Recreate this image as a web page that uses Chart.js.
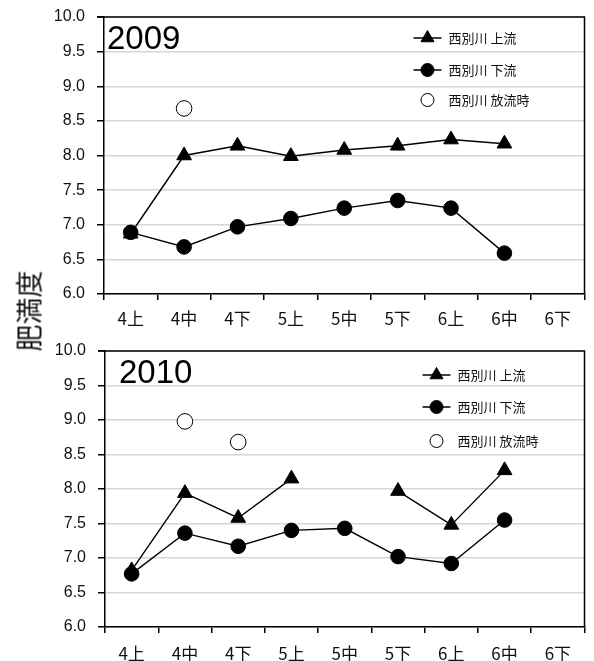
<!DOCTYPE html>
<html>
<head>
<meta charset="utf-8">
<script src="https://cdn.jsdelivr.net/npm/chart.js@4/dist/chart.umd.min.js"></script>
<style>
  body { margin: 0; background: #fff; }
  #wrap { position: relative; width: 594px; height: 661px; }
  canvas { position: absolute; left: 0; }
  #yTitle {
    position: absolute; left: 28px; top: 311px;
    transform: translate(-50%, -50%) rotate(-90deg);
    font-family: "Noto Sans CJK JP", sans-serif; font-size: 27px; color: #111;
    white-space: nowrap; line-height: 1;
  }
</style>
</head>
<body>
<div id="wrap">
  <canvas id="c2009" width="594" height="330" style="top:0"></canvas>
  <canvas id="c2010" width="594" height="331" style="top:330px"></canvas>
  <div id="yTitle">肥満度</div>
</div>
<script>
// 旬ごとのラベル
var categories = ['4上', '4中', '4下', '5上', '5中', '5下', '6上', '6中', '6下'];
var seriesNames = ['西別川 上流', '西別川 下流', '西別川 放流時'];

// 2009
var up2009 = [6.87, 8.0, 8.14, 7.99, 8.08, 8.14, 8.23, 8.17, null];
var down2009 = [6.89, 6.68, 6.97, 7.09, 7.24, 7.35, 7.24, 6.59, null];
var release2009 = [null, 8.68, null, null, null, null, null, null, null];

// 2010
var up2010 = [6.82, 7.94, 7.58, 8.15, null, 7.97, 7.48, 8.27, null];
var down2010 = [6.77, 7.36, 7.17, 7.40, 7.43, 7.02, 6.92, 7.55, null];
var release2010 = [null, 8.98, 8.68, null, null, null, null, null, null];

var yMin = 6.0, yMax = 10.0, yStep = 0.5;

// 凡例と年の表示（プロット内）
var boxLegend = {
  id: 'boxLegend',
  beforeDatasetsDraw: function (chart) {
    var a = chart.chartArea, ctx = chart.ctx;
    ctx.save();
    ctx.strokeStyle = '#000';
    ctx.lineWidth = 1.5;
    ctx.beginPath();
    ctx.moveTo(a.left - 7, a.top);
    ctx.lineTo(a.right, a.top);
    ctx.lineTo(a.right, a.bottom);
    ctx.stroke();
    ctx.restore();
  },
  afterDraw: function (chart) {
    var o = chart.options.plugins.boxLegend;
    var a = chart.chartArea, ctx = chart.ctx;
    ctx.save();
    ctx.fillStyle = '#000';
    ctx.font = o.yearSize + 'px "Liberation Sans", Arial, sans-serif';
    ctx.textBaseline = 'middle';
    ctx.fillText(o.year, a.left + o.yearX, a.top + o.yearY);

    chart.data.datasets.forEach(function (ds, i) {
      var y = a.top + o.rows[i];
      var x1 = a.right - o.lineX;
      var cx = x1 + 14;
      if (ds.showLine !== false) {
        ctx.strokeStyle = '#000';
        ctx.lineWidth = 1.5;
        ctx.beginPath();
        ctx.moveTo(x1, y);
        ctx.lineTo(x1 + 28, y);
        ctx.stroke();
      }
      ctx.fillStyle = ds.pointBackgroundColor;
      ctx.strokeStyle = ds.pointBorderColor;
      ctx.lineWidth = ds.pointBorderWidth;
      Chart.helpers.drawPoint(ctx, {
        pointStyle: ds.pointStyle,
        radius: ds.legendRadius,
        rotation: 0,
        borderWidth: ds.pointBorderWidth
      }, cx, y);
      ctx.fillStyle = '#111';
      ctx.font = '13px "Noto Sans CJK JP", sans-serif';
      ctx.textBaseline = 'middle';
      ctx.fillText(ds.label, a.right - o.textX, y);
    });
    ctx.restore();
  }
};

function makeChart(id, up, down, release, opts) {
  var ctx = document.getElementById(id).getContext('2d');
  return new Chart(ctx, {
    type: 'line',
    data: {
      labels: categories,
      datasets: [
        {
          label: seriesNames[0],
          data: up,
          borderColor: '#000',
          borderWidth: 1.4,
          pointStyle: 'triangle',
          pointRadius: 8.5,
          legendRadius: 7.5,
          pointBackgroundColor: '#000',
          pointBorderColor: '#000',
          pointBorderWidth: 1,
          spanGaps: false,
          tension: 0
        },
        {
          label: seriesNames[1],
          data: down,
          borderColor: '#000',
          borderWidth: 1.4,
          pointStyle: 'circle',
          pointRadius: 7.3,
          legendRadius: 6.5,
          pointBackgroundColor: '#000',
          pointBorderColor: '#000',
          pointBorderWidth: 1,
          spanGaps: false,
          tension: 0
        },
        {
          label: seriesNames[2],
          data: release,
          showLine: false,
          pointStyle: 'circle',
          pointRadius: 7.8,
          legendRadius: 6.5,
          pointBackgroundColor: '#fff',
          pointBorderColor: '#000',
          pointBorderWidth: 1
        }
      ]
    },
    options: {
      responsive: false,
      animation: false,
      layout: { padding: { top: opts.top, right: 7, left: 0, bottom: 0 } },
      plugins: {
        legend: { display: false },
        tooltip: { enabled: false },
        boxLegend: opts.legend
      },
      scales: {
        x: {
          offset: true,
          grid: {
            offset: true,
            drawOnChartArea: false,
            tickColor: '#000',
            tickLength: 6,
            lineWidth: 1.5
          },
          border: { color: '#000', width: 1.5 },
          ticks: {
            color: '#111',
            padding: opts.xPad,
            font: { family: '"Noto Sans CJK JP", sans-serif', size: 17 }
          },
          afterFit: function (s) {
            s.height = opts.xHeight;
            s.paddingLeft = 0;
            s.paddingRight = 0;
          }
        },
        y: {
          min: yMin,
          max: yMax,
          grid: {
            color: '#d6d6d6',
            lineWidth: 1.5,
            tickColor: '#000',
            tickLength: 7
          },
          border: { color: '#000', width: 1.5 },
          ticks: {
            stepSize: yStep,
            color: '#111',
            padding: 12,
            font: { family: '"Liberation Sans", Arial, sans-serif', size: 16 },
            callback: function (v) { return v.toFixed(1); }
          },
          afterFit: function (s) {
            s.width = opts.yWidth;
            s.paddingTop = 0;
            s.paddingBottom = 0;
          }
        }
      }
    },
    plugins: [boxLegend]
  });
}

makeChart('c2009', up2009, down2009, release2009, {
  top: 17, xHeight: 36, yWidth: 104, xPad: 8,
  legend: { year: '2009', yearSize: 33, yearX: 3, yearY: 23, lineX: 171, textX: 136, rows: [21, 53, 83] }
});
makeChart('c2010', up2010, down2010, release2010, {
  top: 21, xHeight: 34, yWidth: 105, xPad: 10,
  legend: { year: '2010', yearSize: 33, yearX: 14, yearY: 23, lineX: 162, textX: 127, rows: [24, 56, 90] }
});
</script>
</body>
</html>
